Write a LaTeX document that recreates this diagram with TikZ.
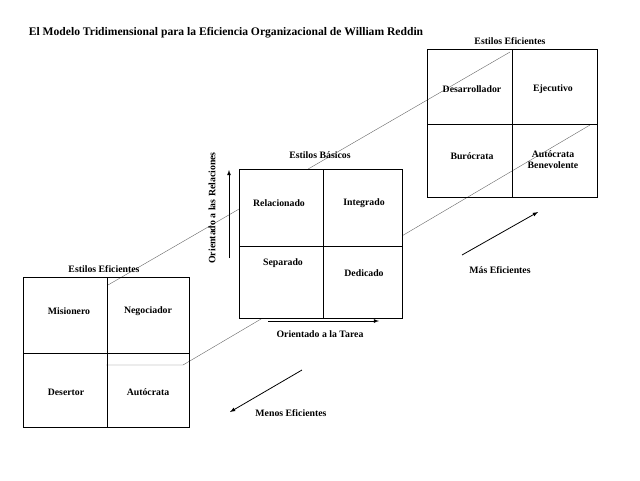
\documentclass[tikz,border=0pt]{standalone}
\usepackage{fontspec}
\setmainfont{Liberation Serif}
\begin{document}
\begin{tikzpicture}[x=1pt,y=-1pt,
  lbl/.style={font=\bfseries\fontsize{9.8}{11}\selectfont,align=center},
  box/.style={draw,fill=white,line width=0.6pt},
  thin/.style={draw=black!60,line width=0.4pt},
  arr/.style={-latex,line width=0.8pt}]
\useasboundingbox (0,0) rectangle (640,480);
\node[lbl,font=\bfseries\fontsize{11.6}{13}\selectfont] (title) at (226,33) {El Modelo Tridimensional para la Eficiencia Organizacional de William Reddin};
% diagonals
\coordinate (u1) at (108,285); \coordinate (u2) at (510,52);
\coordinate (l0) at (106,365); \coordinate (l1) at (183,365); \coordinate (l2) at (590,125);
\draw[thin] (u1) -- (u2);
\draw[thin] (l0) -- (l1) -- (l2);
\draw[box,fill=none] (23,277) rectangle (189,427);
\draw[box] (239,169) rectangle (402,318);
\draw[line width=0.6pt] (107,277) -- (107,427) (23,353) -- (189,353);
\draw[line width=0.6pt] (323,169) -- (323,318) (239,246) -- (402,246);
\draw[line width=0.6pt] (427,49) rectangle (597,197) (512,49) -- (512,197) (427,124) -- (597,124);
\node[lbl] (t1) at (104,269) {Estilos Eficientes};
\node[lbl] (t2) at (320,155) {Estilos Básicos};
\node[lbl] (t3) at (510,41) {Estilos Eficientes};
\node[lbl] (a) at (69,311) {Misionero};
\node[lbl] (b) at (148,311) {Negociador};
\node[lbl] (c) at (66,392) {Desertor};
\node[lbl] (d) at (148,392) {Autócrata};
\node[lbl] (e) at (279,203) {Relacionado};
\node[lbl] (f) at (364,203) {Integrado};
\node[lbl] (g) at (283,263) {Separado};
\node[lbl] (h) at (364,273) {Dedicado};
\node[lbl] (i) at (472,89) {Desarrollador};
\node[lbl] (j) at (553,89) {Ejecutivo};
\node[lbl] (k) at (472,156) {Burócrata};
\node[lbl] (m) at (553,160) {Autócrata\\Benevolente};
\coordinate (v1) at (229,258); \coordinate (v2) at (229,170);
\draw[arr] (v1) -- (v2);
\node[lbl,rotate=90] (vl) at (212,208) {Orientado a las Relaciones};
\coordinate (h1) at (268,321); \coordinate (h2) at (379,321);
\draw[arr] (h1) -- (h2);
\node[lbl] (hl) at (320,334) {Orientado a la Tarea};
\coordinate (m1) at (462,255); \coordinate (m2) at (538,212);
\draw[arr] (m1) -- (m2);
\node[lbl] (ml) at (500,270) {Más Eficientes};
\coordinate (n1) at (302,370); \coordinate (n2) at (230,412);
\draw[arr] (n1) -- (n2);
\node[lbl] (nl) at (291,413) {Menos Eficientes};
\end{tikzpicture}
\end{document}
